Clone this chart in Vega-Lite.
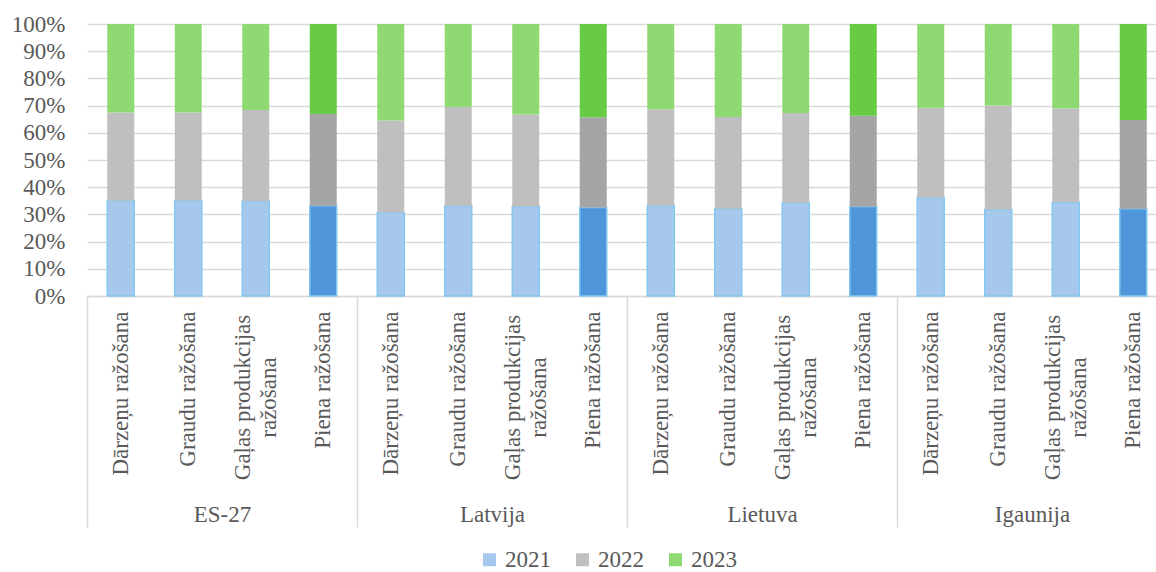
{
  "$schema": "https://vega.github.io/schema/vega-lite/v6.json",
  "autosize": "none",
  "width": 1080,
  "height": 272,
  "padding": {"left": 87, "top": 24, "right": -11, "bottom": 276},
  "background": "white",
  "config": {"view": {"stroke": null}, "font": "Liberation Serif, Times New Roman, serif"},
  "data": {
    "values": [
      {"region": "ES-27", "product": "Dārzeņu ražošana", "year": "2021", "value": 35.0},
      {"region": "ES-27", "product": "Dārzeņu ražošana", "year": "2022", "value": 32.5},
      {"region": "ES-27", "product": "Dārzeņu ražošana", "year": "2023", "value": 32.5},
      {"region": "ES-27", "product": "Graudu ražošana", "year": "2021", "value": 35.1},
      {"region": "ES-27", "product": "Graudu ražošana", "year": "2022", "value": 32.4},
      {"region": "ES-27", "product": "Graudu ražošana", "year": "2023", "value": 32.5},
      {"region": "ES-27", "product": "Gaļas produkcijas ražošana", "year": "2021", "value": 34.9},
      {"region": "ES-27", "product": "Gaļas produkcijas ražošana", "year": "2022", "value": 33.5},
      {"region": "ES-27", "product": "Gaļas produkcijas ražošana", "year": "2023", "value": 31.6},
      {"region": "ES-27", "product": "Piena ražošana", "year": "2021", "value": 33.2},
      {"region": "ES-27", "product": "Piena ražošana", "year": "2022", "value": 33.7},
      {"region": "ES-27", "product": "Piena ražošana", "year": "2023", "value": 33.1},
      {"region": "Latvija", "product": "Dārzeņu ražošana", "year": "2021", "value": 30.7},
      {"region": "Latvija", "product": "Dārzeņu ražošana", "year": "2022", "value": 33.8},
      {"region": "Latvija", "product": "Dārzeņu ražošana", "year": "2023", "value": 35.5},
      {"region": "Latvija", "product": "Graudu ražošana", "year": "2021", "value": 33.2},
      {"region": "Latvija", "product": "Graudu ražošana", "year": "2022", "value": 36.3},
      {"region": "Latvija", "product": "Graudu ražošana", "year": "2023", "value": 30.5},
      {"region": "Latvija", "product": "Gaļas produkcijas ražošana", "year": "2021", "value": 32.9},
      {"region": "Latvija", "product": "Gaļas produkcijas ražošana", "year": "2022", "value": 33.8},
      {"region": "Latvija", "product": "Gaļas produkcijas ražošana", "year": "2023", "value": 33.3},
      {"region": "Latvija", "product": "Piena ražošana", "year": "2021", "value": 32.5},
      {"region": "Latvija", "product": "Piena ražošana", "year": "2022", "value": 33.2},
      {"region": "Latvija", "product": "Piena ražošana", "year": "2023", "value": 34.3},
      {"region": "Lietuva", "product": "Dārzeņu ražošana", "year": "2021", "value": 33.3},
      {"region": "Lietuva", "product": "Dārzeņu ražošana", "year": "2022", "value": 35.4},
      {"region": "Lietuva", "product": "Dārzeņu ražošana", "year": "2023", "value": 31.3},
      {"region": "Lietuva", "product": "Graudu ražošana", "year": "2021", "value": 32.1},
      {"region": "Lietuva", "product": "Graudu ražošana", "year": "2022", "value": 33.7},
      {"region": "Lietuva", "product": "Graudu ražošana", "year": "2023", "value": 34.2},
      {"region": "Lietuva", "product": "Gaļas produkcijas ražošana", "year": "2021", "value": 34.3},
      {"region": "Lietuva", "product": "Gaļas produkcijas ražošana", "year": "2022", "value": 33.0},
      {"region": "Lietuva", "product": "Gaļas produkcijas ražošana", "year": "2023", "value": 32.7},
      {"region": "Lietuva", "product": "Piena ražošana", "year": "2021", "value": 32.9},
      {"region": "Lietuva", "product": "Piena ražošana", "year": "2022", "value": 33.4},
      {"region": "Lietuva", "product": "Piena ražošana", "year": "2023", "value": 33.7},
      {"region": "Igaunija", "product": "Dārzeņu ražošana", "year": "2021", "value": 36.2},
      {"region": "Igaunija", "product": "Dārzeņu ražošana", "year": "2022", "value": 33.0},
      {"region": "Igaunija", "product": "Dārzeņu ražošana", "year": "2023", "value": 30.8},
      {"region": "Igaunija", "product": "Graudu ražošana", "year": "2021", "value": 31.8},
      {"region": "Igaunija", "product": "Graudu ražošana", "year": "2022", "value": 38.2},
      {"region": "Igaunija", "product": "Graudu ražošana", "year": "2023", "value": 30.0},
      {"region": "Igaunija", "product": "Gaļas produkcijas ražošana", "year": "2021", "value": 34.5},
      {"region": "Igaunija", "product": "Gaļas produkcijas ražošana", "year": "2022", "value": 34.4},
      {"region": "Igaunija", "product": "Gaļas produkcijas ražošana", "year": "2023", "value": 31.1},
      {"region": "Igaunija", "product": "Piena ražošana", "year": "2021", "value": 32.1},
      {"region": "Igaunija", "product": "Piena ražošana", "year": "2022", "value": 32.6},
      {"region": "Igaunija", "product": "Piena ražošana", "year": "2023", "value": 35.3}
    ]
  },
  "transform": [
    {"calculate": "datum.region + '|' + datum.product", "as": "bar"}
  ],
  "layer": [
    {
      "mark": {"type": "bar", "width": {"band": 0.4}, "strokeWidth": 1.5},
      "encoding": {
        "x": {
          "field": "bar",
          "type": "nominal",
          "sort": null,
          "scale": {"paddingInner": 0, "paddingOuter": 0},
          "axis": {
            "orient": "bottom",
            "title": null,
            "domainColor": "#d9d9d9",
            "domainWidth": 1.3,
            "ticks": false,
            "grid": false,
            "labelAngle": -90,
            "labelAlign": {"condition": {"test": "indexof(datum.value, 'Gaļas') >= 0", "value": "center"}, "value": "right"},
            "labelBaseline": "middle",
            "labelPadding": {"condition": {"test": "indexof(datum.value, 'Gaļas') >= 0", "value": 101}, "value": 15},
            "labelOffset": {"condition": {"test": "indexof(datum.value, 'Gaļas') >= 0", "value": -13}, "value": 0},
            "labelLineHeight": 26,
            "labelFont": "Liberation Serif, Times New Roman, serif",
            "labelFontSize": 23,
            "labelColor": "#595959",
            "labelLimit": 400,
            "labelOverlap": false,
            "labelExpr": "split(datum.value, '|')[1] == 'Gaļas produkcijas ražošana' ? ['Gaļas produkcijas', 'ražošana'] : split(datum.value, '|')[1]"
          }
        },
        "y": {
          "field": "value",
          "type": "quantitative",
          "stack": "normalize",
          "scale": {"domain": [0, 1]},
          "axis": {
            "title": null,
            "values": [0, 0.1, 0.2, 0.3, 0.4, 0.5, 0.6, 0.7, 0.8, 0.9, 1],
            "format": ".0%",
            "domain": false,
            "ticks": false,
            "grid": true,
            "gridColor": "#d9d9d9",
            "gridWidth": 1.3,
            "labelPadding": 22,
            "labelFont": "Liberation Serif, Times New Roman, serif",
            "labelFontSize": 23,
            "labelColor": "#595959"
          }
        },
        "color": {
          "field": "year",
          "type": "nominal",
          "condition": [
            {"test": "datum.product === 'Piena ražošana' && datum.year === '2021'", "value": "#4f95d9"},
            {"test": "datum.product === 'Piena ražošana' && datum.year === '2022'", "value": "#a5a5a5"},
            {"test": "datum.product === 'Piena ražošana' && datum.year === '2023'", "value": "#67cb45"}
          ],
          "scale": {"domain": ["2021", "2022", "2023"], "range": ["#a6c8ec", "#bfbfbf", "#8fd973"]},
          "legend": {
            "title": null,
            "orient": "none",
            "legendX": 391,
            "legendY": 524,
            "direction": "horizontal",
            "symbolType": "square",
            "symbolSize": 169,
            "symbolStrokeWidth": 1.5,
            "labelFont": "Liberation Serif, Times New Roman, serif",
            "labelFontSize": 23,
            "labelColor": "#595959",
            "labelOffset": 4,
            "columnPadding": 20,
            "encode": {
              "symbols": {
                "update": {
                  "stroke": {"signal": "datum.value === '2021' ? '#83c8ee' : 'transparent'"}
                }
              }
            }
          }
        },
        "stroke": {
          "condition": {"test": "datum.year === '2021'", "value": "#83c8ee"},
          "value": "transparent"
        },
        "order": {"field": "year", "sort": "ascending"}
      }
    },
    {
      "mark": {"type": "rule", "opacity": 0},
      "encoding": {
        "x": {
          "field": "region",
          "type": "nominal",
          "sort": null,
          "scale": {"paddingInner": 0, "paddingOuter": 0},
          "axis": {
            "orient": "bottom",
            "title": null,
            "domain": false,
            "grid": false,
            "ticks": true,
            "tickBand": "extent",
            "tickSize": 231,
            "tickColor": "#d9d9d9",
            "tickWidth": 1.5,
            "labelAngle": 0,
            "labelPadding": -24,
            "labelFont": "Liberation Serif, Times New Roman, serif",
            "labelFontSize": 23,
            "labelColor": "#595959"
          }
        }
      }
    }
  ],
  "resolve": {"scale": {"x": "independent"}, "axis": {"x": "independent"}}
}
